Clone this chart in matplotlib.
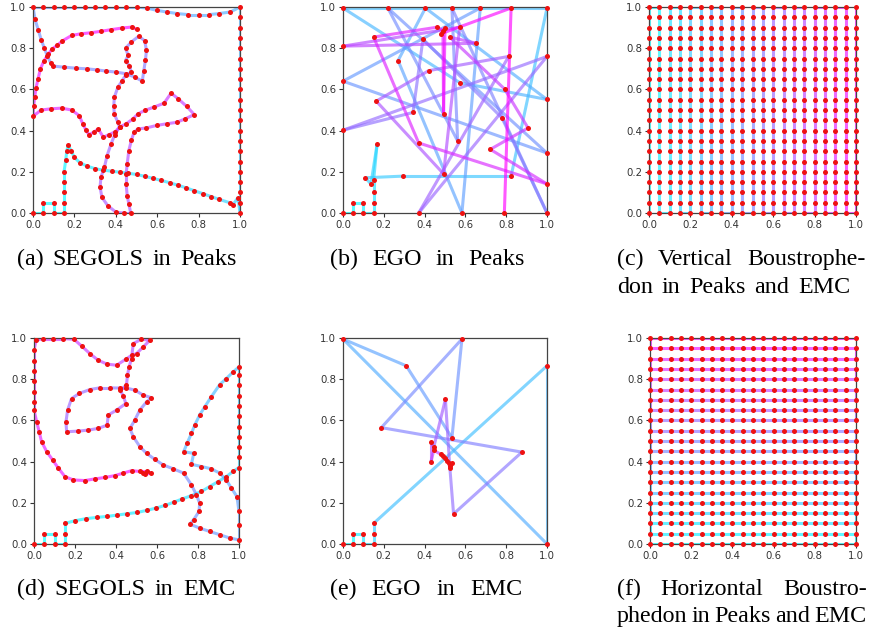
import matplotlib
matplotlib.use("Agg")
import matplotlib.pyplot as plt
from matplotlib.collections import LineCollection
import numpy as np

W, H = 871, 635

# ---------------- data ----------------
grid = [0.0, 0.05, 0.1, 0.15, 0.2, 0.25, 0.3, 0.35, 0.4, 0.45, 0.5,
        0.55, 0.6, 0.65, 0.7, 0.75, 0.8, 0.85, 0.9, 0.95, 1.0]
tick_vals = [0.0, 0.2, 0.4, 0.6, 0.8, 1.0]
tick_labels = ["0.0", "0.2", "0.4", "0.6", "0.8", "1.0"]

# (a) SEGOLS in Peaks
segols_peaks = [
    (0, 0), (0.05, 0), (0.05, 0.05), (0.1, 0.05), (0.1, 0), (0.15, 0), (0.15, 0.05),
    (0.15, 0.1), (0.15, 0.15), (0.15, 0.2), (0.158, 0.255), (0.163, 0.30), (0.17, 0.33),
    (0.185, 0.30), (0.2, 0.27), (0.225, 0.245), (0.26, 0.228), (0.3, 0.215), (0.34, 0.208),
    (0.38, 0.203), (0.42, 0.198), (0.46, 0.193), (0.5, 0.187), (0.54, 0.178), (0.58, 0.168),
    (0.62, 0.158), (0.66, 0.147), (0.7, 0.135), (0.74, 0.122), (0.78, 0.108), (0.82, 0.094),
    (0.86, 0.08), (0.9, 0.066), (0.95, 0.05), (0.966, 0.04), (0.99, 0.075), (1.0, 0.0),
    (1.0, 0.05), (1.0, 0.1), (1.0, 0.15), (1.0, 0.2), (1.0, 0.25), (1.0, 0.3), (1.0, 0.35),
    (1.0, 0.4), (1.0, 0.45), (1.0, 0.5), (1.0, 0.55), (1.0, 0.6), (1.0, 0.65), (1.0, 0.7),
    (1.0, 0.75), (1.0, 0.8), (1.0, 0.85), (1.0, 0.9), (1.0, 0.95), (1.0, 1.0),
    (0.954, 0.976), (0.898, 0.968), (0.849, 0.963), (0.8, 0.963), (0.751, 0.963),
    (0.698, 0.968), (0.645, 0.976), (0.597, 0.984), (0.55, 0.995), (0.5, 1.0), (0.45, 1.0),
    (0.4, 1.0), (0.35, 1.0), (0.3, 1.0), (0.25, 1.0), (0.2, 1.0), (0.15, 1.0), (0.1, 1.0),
    (0.05, 1.0), (0.0, 1.0), (0.01, 0.94), (0.025, 0.89), (0.04, 0.84), (0.055, 0.80),
    (0.07, 0.76), (0.085, 0.73), (0.098, 0.713), (0.15, 0.708), (0.207, 0.703),
    (0.259, 0.70), (0.307, 0.695), (0.353, 0.689), (0.402, 0.684), (0.45, 0.676),
    (0.491, 0.66), (0.528, 0.64), (0.535, 0.689), (0.543, 0.741), (0.548, 0.789),
    (0.54, 0.835), (0.512, 0.859), (0.475, 0.83), (0.447, 0.80), (0.46, 0.765),
    (0.447, 0.74), (0.465, 0.715), (0.475, 0.684), (0.447, 0.668), (0.431, 0.643),
    (0.41, 0.611), (0.393, 0.562), (0.39, 0.517), (0.393, 0.48), (0.41, 0.44), (0.418, 0.417),
    (0.395, 0.38), (0.377, 0.335), (0.358, 0.279), (0.345, 0.222), (0.328, 0.173),
    (0.324, 0.125), (0.333, 0.076), (0.361, 0.036), (0.402, 0.003), (0.44, 0.0), (0.472, 0.0),
    (0.463, 0.044), (0.455, 0.084), (0.45, 0.141), (0.45, 0.19), (0.455, 0.238),
    (0.463, 0.303), (0.475, 0.352), (0.488, 0.392), (0.507, 0.408), (0.548, 0.413),
    (0.597, 0.425), (0.645, 0.433), (0.694, 0.44), (0.735, 0.457), (0.779, 0.478),
    (0.743, 0.517), (0.702, 0.554), (0.667, 0.582), (0.633, 0.533), (0.584, 0.514),
    (0.54, 0.498), (0.507, 0.481), (0.483, 0.457), (0.45, 0.433), (0.418, 0.417),
    (0.398, 0.395), (0.369, 0.381), (0.34, 0.368), (0.315, 0.408), (0.293, 0.392),
    (0.27, 0.38), (0.255, 0.404), (0.242, 0.43), (0.223, 0.473), (0.187, 0.50),
    (0.138, 0.509), (0.089, 0.506), (0.04, 0.50), (0.0, 0.47), (0.003, 0.517),
    (0.008, 0.562), (0.015, 0.608), (0.024, 0.65), (0.036, 0.70), (0.052, 0.737),
    (0.073, 0.77), (0.093, 0.797), (0.117, 0.814), (0.141, 0.835), (0.187, 0.862),
    (0.231, 0.87), (0.28, 0.875), (0.328, 0.882), (0.377, 0.89), (0.431, 0.898),
    (0.48, 0.903), (0.5, 0.891),
]

# (b) EGO in Peaks
ego_peaks = [
    (0, 0), (0.05, 0), (0.05, 0.05), (0.1, 0.05), (0.1, 0), (0.15, 0), (0.15, 0.05),
    (0.15, 0.1), (0.15, 0.158), (0.167, 0.333), (0.137, 0.141), (0.109, 0.171),
    (0.294, 0.179), (0.824, 0.179), (1.0, 0.995), (0.0, 0.995), (0.572, 0.633),
    (1.0, 0.551), (0.404, 0.995), (0.27, 0.74), (0.583, 0.0), (0.673, 0.995), (0.0, 0.64),
    (1.0, 0.291), (0.22, 0.995), (0.562, 0.35), (0.534, 0.995), (1.0, 0.0), (0.779, 0.462),
    (0.392, 0.844), (0.343, 0.488), (0.0, 0.402), (1.0, 0.76), (0.371, 0.0), (0.812, 0.76),
    (0.42, 0.691), (0.163, 0.543), (0.493, 0.19), (0.572, 0.902), (0.0, 0.81),
    (0.654, 0.824), (0.523, 0.854), (0.792, 0.602), (0.907, 0.413), (0.722, 0.309),
    (1.0, 0.141), (0.371, 0.34), (0.15, 0.854), (0.461, 0.902), (0.49, 0.885),
    (0.493, 0.483), (0.5, 0.9), (0.48, 0.87), (0.824, 0.995), (0.791, 0.0),
]

# (d) SEGOLS in EMC
segols_emc = [
    (0, 0), (0.05, 0), (0.05, 0.05), (0.1, 0.05), (0.1, 0), (0.15, 0), (0.15, 0.05),
    (0.15, 0.1), (0.2, 0.113), (0.253, 0.123), (0.305, 0.129), (0.357, 0.134),
    (0.403, 0.14), (0.455, 0.147), (0.503, 0.153), (0.549, 0.163), (0.594, 0.174),
    (0.638, 0.187), (0.682, 0.203), (0.724, 0.219), (0.768, 0.235), (0.817, 0.255),
    (0.857, 0.279), (0.898, 0.303), (0.938, 0.327), (0.971, 0.352), (1.0, 0.371),
    (1.0, 0.42), (1.0, 0.47), (1.0, 0.52), (1.0, 0.57), (1.0, 0.62), (1.0, 0.67),
    (1.0, 0.72), (1.0, 0.77), (1.0, 0.82), (1.0, 0.86), (0.971, 0.835), (0.938, 0.803),
    (0.906, 0.774), (0.865, 0.715), (0.833, 0.666), (0.808, 0.626), (0.784, 0.577),
    (0.768, 0.537), (0.747, 0.489), (0.73, 0.448), (0.779, 0.44), (0.768, 0.387),
    (0.817, 0.376), (0.865, 0.365), (0.906, 0.344), (0.938, 0.311), (0.963, 0.271),
    (0.99, 0.23), (1.0, 0.158), (1.0, 0.094), (1.0, 0.02), (0.955, 0.029), (0.906, 0.045),
    (0.857, 0.061), (0.808, 0.077), (0.76, 0.097), (0.779, 0.118), (0.805, 0.158),
    (0.808, 0.198), (0.792, 0.239), (0.768, 0.287), (0.73, 0.344), (0.679, 0.365),
    (0.63, 0.384), (0.589, 0.411), (0.549, 0.44), (0.516, 0.473), (0.484, 0.521),
    (0.468, 0.561), (0.492, 0.602), (0.516, 0.65), (0.549, 0.69), (0.573, 0.71),
    (0.532, 0.723), (0.492, 0.747), (0.451, 0.757), (0.419, 0.757), (0.37, 0.758),
    (0.321, 0.758), (0.273, 0.75), (0.221, 0.731), (0.183, 0.706), (0.164, 0.65),
    (0.156, 0.594), (0.159, 0.545), (0.216, 0.548), (0.265, 0.553), (0.313, 0.561),
    (0.357, 0.577), (0.362, 0.626), (0.403, 0.65), (0.448, 0.682), (0.435, 0.72),
    (0.42, 0.747), (0.451, 0.771), (0.456, 0.819), (0.464, 0.86), (0.476, 0.9),
    (0.484, 0.973), (0.524, 0.994), (0.565, 0.989), (0.532, 0.956), (0.5, 0.924),
    (0.476, 0.916), (0.448, 0.897), (0.403, 0.868), (0.357, 0.873), (0.313, 0.892),
    (0.273, 0.924), (0.232, 0.961), (0.195, 0.994), (0.143, 0.997), (0.094, 0.997),
    (0.045, 0.997), (0.01, 0.989), (0.0, 0.94), (0.0, 0.89), (0.0, 0.84), (0.0, 0.79),
    (0.0, 0.74), (0.0, 0.69), (0.0, 0.65), (0.013, 0.594), (0.025, 0.545), (0.037, 0.497),
    (0.062, 0.448), (0.091, 0.408), (0.119, 0.368), (0.151, 0.327), (0.192, 0.311),
    (0.248, 0.308), (0.297, 0.316), (0.346, 0.323), (0.394, 0.332), (0.435, 0.344),
    (0.476, 0.356), (0.516, 0.352), (0.549, 0.352), (0.573, 0.344), (0.541, 0.339),
    (0.53, 0.347),
]

# (e) EGO in EMC
ego_emc = [
    (0, 0), (0.05, 0), (0.05, 0.05), (0.1, 0.05), (0.1, 0), (0.15, 0), (0.15, 0.05),
    (0.15, 0.1), (1.0, 0.865), (1.0, 0.0), (0.0, 0.995), (0.31, 0.865), (0.534, 0.516),
    (0.583, 0.995), (0.188, 0.565), (0.877, 0.446), (0.542, 0.146), (0.523, 0.38),
    (0.502, 0.703), (0.445, 0.47), (0.431, 0.497), (0.431, 0.398), (0.445, 0.455),
    (0.48, 0.435), (0.49, 0.428), (0.5, 0.418), (0.51, 0.405), (0.52, 0.395),
    (0.523, 0.367), (0.534, 0.394),
]

# captions: (words, x_start, x_end, baseline_y)
captions = [
    (["(a)", "SEGOLS", "in", "Peaks"], 17, 237, 265),
    (["(b)", "EGO", "in", "Peaks"], 330, 525, 265),
    (["(c)", "Vertical", "Boustrophe-"], 617, 866, 265),
    (["don", "in", "Peaks", "and", "EMC"], 617, 850, 293),
    (["(d)", "SEGOLS", "in", "EMC"], 17, 235, 595),
    (["(e)", "EGO", "in", "EMC"], 330, 522, 595),
    (["(f)", "Horizontal", "Boustro-"], 617, 867, 595),
    (["phedon", "in", "Peaks", "and", "EMC"], 617, 866, 622),
]

# ---------------- drawing ----------------
cmap = plt.get_cmap("cool")


def draw_path(ax, pts):
    xs = [p[0] for p in pts]
    ys = [p[1] for p in pts]
    segs = [[(xs[i], ys[i]), (xs[i + 1], ys[i + 1])] for i in range(len(xs) - 1)]
    n = max(len(segs) - 1, 1)
    cols = [cmap(i / n) for i in range(len(segs))]
    lc = LineCollection(segs, colors=cols, linewidths=2.2, alpha=0.65, zorder=2)
    ax.add_collection(lc)
    ax.scatter(xs, ys, s=13, color="#ee1111", zorder=3, clip_on=False, linewidths=0)


def style(ax):
    ax.set_xlim(0, 1)
    ax.set_ylim(0, 1)
    ax.set_xticks(tick_vals)
    ax.set_yticks(tick_vals)
    ax.set_xticklabels(tick_labels)
    ax.set_yticklabels(tick_labels)
    ax.tick_params(labelsize=7.3, colors="#333333", length=3, width=0.8, pad=2)
    for s in ax.spines.values():
        s.set_color("#444444")
        s.set_linewidth(0.9)


fig = plt.figure(figsize=(W / 100, H / 100), dpi=100)


def add_ax(x0, x1, ytop, ybot):
    return fig.add_axes([x0 / W, 1 - ybot / H, (x1 - x0) / W, (ybot - ytop) / H])


# vertical / horizontal boustrophedon paths built from the grid
vert_path = []
for i, gx in enumerate(grid):
    col = grid if i % 2 == 0 else grid[::-1]
    vert_path += [(gx, gy) for gy in col]
horiz_path = []
for i, gy in enumerate(grid):
    row = grid if i % 2 == 0 else grid[::-1]
    horiz_path += [(gx, gy) for gx in row]

panels = [
    ((33, 240, 7, 213), segols_peaks),
    ((343, 547, 7, 213), ego_peaks),
    ((649, 856, 7, 213), vert_path),
    ((34, 239, 338, 544), segols_emc),
    ((343, 547, 338, 544), ego_emc),
    ((650, 856, 338, 544), horiz_path),
]
for box, pts in panels:
    ax = add_ax(*box)
    style(ax)
    draw_path(ax, pts)

# ---------------- captions (justified word placement) ----------------
CAP_FONT = dict(family="Liberation Serif", fontsize=17.3, color="black", va="baseline", ha="left")
renderer = fig.canvas.get_renderer()

for words, xs, xe, yb in captions:
    texts = [fig.text(0, 1 - yb / H, w, **CAP_FONT) for w in words]
    widths = [t.get_window_extent(renderer).width for t in texts]
    gap = (xe - xs - sum(widths)) / (len(words) - 1)
    x = xs
    for t, wdt in zip(texts, widths):
        t.set_x(x / W)
        x += wdt + gap

fig.savefig("out.png", dpi=100)
